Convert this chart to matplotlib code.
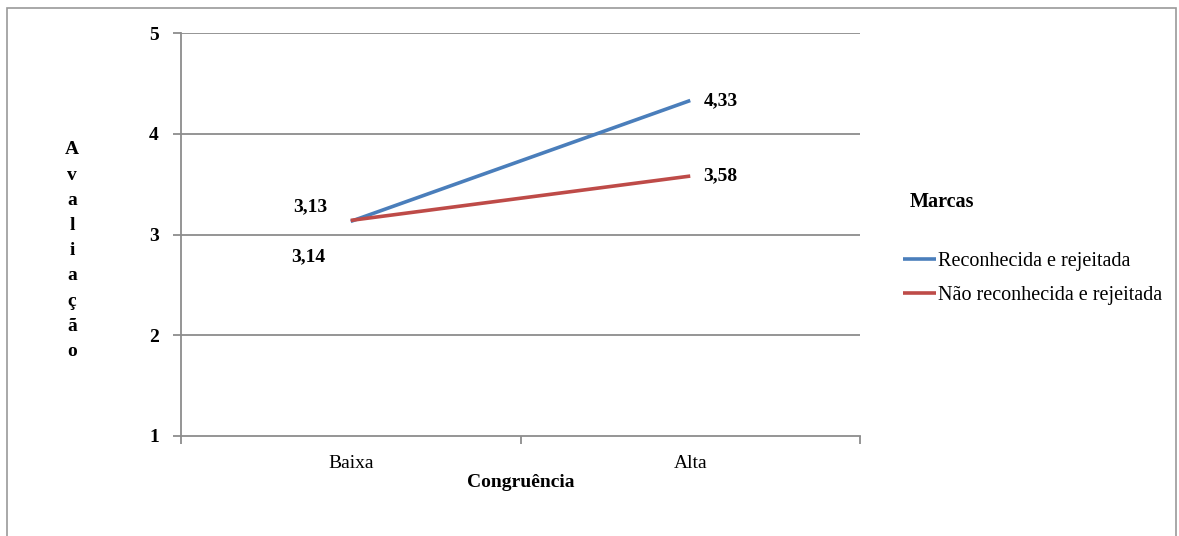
import matplotlib
matplotlib.use("Agg")
import matplotlib.pyplot as plt
from matplotlib.patches import Rectangle

# Data
categories = ["Baixa", "Alta"]
series_names = ["Reconhecida e rejeitada", "Não reconhecida e rejeitada"]
reconhecida = [3.13, 4.33]
nao_reconhecida = [3.14, 3.58]
y_ticks = [1, 2, 3, 4, 5]

blue = "#4A7EBB"
red = "#BE4B48"
grid_col = "#8C8C8C"
serif = "Liberation Serif"
fs = 14

fig = plt.figure(figsize=(11.79, 5.36), dpi=100)
fig.patch.set_facecolor("white")

# outer chart frame
fig.add_artist(Rectangle((7 / 1179, -0.05), (1176 - 7) / 1179, 1.05 - 8 / 536,
                         transform=fig.transFigure, fill=False,
                         edgecolor="#9A9A9A", linewidth=1.2))
# caption fragment from the page above
fig.text(228 / 1179, 1 + 9 / 536, "g", fontfamily=serif, fontsize=15,
         ha="center", va="baseline", color="black")

ax = fig.add_axes([181 / 1179, 100 / 536, 679 / 1179, 403 / 536])
x = list(range(len(categories)))

ax.plot(x, reconhecida, color=blue, linewidth=2.6, solid_capstyle="butt", zorder=3)
ax.plot(x, nao_reconhecida, color=red, linewidth=2.6, solid_capstyle="butt", zorder=3)

ax.set_xlim(-0.5, 1.5)
ax.set_ylim(1, 5)

# gridlines and axes
for t in y_ticks[1:]:
    ax.axhline(t, color=grid_col, linewidth=1.3, zorder=1)
for side in ["top", "right"]:
    ax.spines[side].set_visible(False)
for side in ["left", "bottom"]:
    ax.spines[side].set_color(grid_col)
    ax.spines[side].set_linewidth(1.3)

ax.set_yticks(y_ticks)
ax.set_yticklabels([str(t) for t in y_ticks], fontfamily=serif,
                   fontweight="bold", fontsize=fs)
ax.tick_params(axis="y", length=6, width=1.3, color=grid_col, pad=10)

ax.set_xticks(x)
ax.set_xticklabels(categories, fontfamily=serif, fontsize=fs)
ax.tick_params(axis="x", which="major", length=0, pad=14)
ax.set_xticks([-0.5, 0.5, 1.5], minor=True)
ax.tick_params(axis="x", which="minor", length=6, width=1.3, color=grid_col)

ax.set_xlabel("Congruência", fontfamily=serif, fontweight="bold", fontsize=fs,
              labelpad=1)

# vertical stacked y-axis title
ylab = "Avaliação"
for i, ch in enumerate(ylab):
    fig.text(72 / 1179, 1 - (150 + i * 25.2) / 536, ch, fontfamily=serif,
             fontweight="bold", fontsize=fs, ha="center", va="center")

# data labels
lab_kw = dict(textcoords="offset pixels", fontfamily=serif, fontweight="bold",
              fontsize=fs, va="center")
ax.annotate(f"{reconhecida[0]:.2f}".replace(".", ","), (x[0], reconhecida[0]),
            xytext=(-23, 15), ha="right", **lab_kw)
ax.annotate(f"{nao_reconhecida[0]:.2f}".replace(".", ","), (x[0], nao_reconhecida[0]),
            xytext=(-25, -36), ha="right", **lab_kw)
ax.annotate(f"{reconhecida[1]:.2f}".replace(".", ","), (x[1], reconhecida[1]),
            xytext=(13, 0), ha="left", **lab_kw)
ax.annotate(f"{nao_reconhecida[1]:.2f}".replace(".", ","), (x[1], nao_reconhecida[1]),
            xytext=(13, 0), ha="left", **lab_kw)

# legend
fig.text(910 / 1179, 1 - 202 / 536, "Marcas", fontfamily=serif, fontweight="bold",
         fontsize=14.5, ha="left", va="center")
handles = ax.get_lines()[:2]
leg = fig.legend(handles, series_names, loc="upper left",
                 bbox_to_anchor=(903 / 1179, 1 - 252 / 536),
                 frameon=False, prop={"family": serif, "size": 14.5},
                 handlelength=1.65, handletextpad=0.1, labelspacing=0.72,
                 borderpad=0, borderaxespad=0)

fig.savefig("out.png", dpi=100, facecolor="white")
